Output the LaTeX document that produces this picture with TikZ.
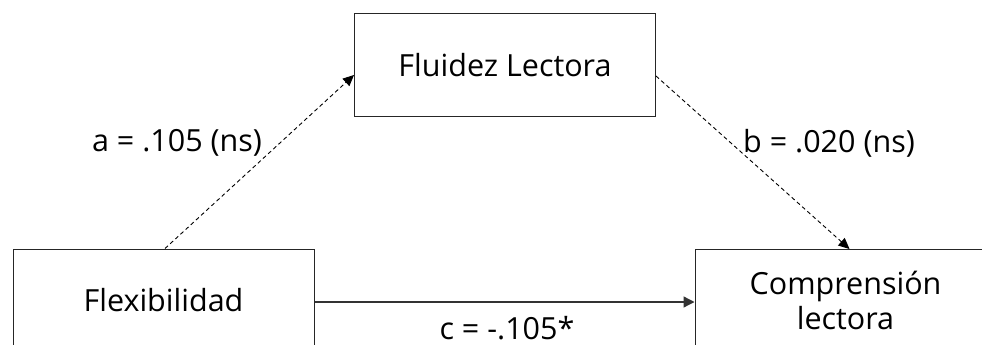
\documentclass[tikz,border=0pt]{standalone}
\usepackage{fontspec}
\setmainfont{Open Sans}
\usetikzlibrary{arrows.meta,calc}
\begin{document}
\begin{tikzpicture}[x=1pt,y=-1pt,
  box/.style={draw=black!85,line width=1pt,minimum width=301pt,minimum height=102pt,inner sep=0pt,align=center,font=\fontsize{30.5}{35}\selectfont},
  lab/.style={font=\fontsize{30.5}{35}\selectfont,inner sep=0pt},
  conn/.style={draw=black!80,line width=1.3pt,-{Triangle[length=11pt,width=11pt]}},
  dconn/.style={draw=black,line width=0.9pt,dash pattern=on 4pt off 3pt,-{Triangle[length=11pt,width=10pt]}}]
\clip (0,0) rectangle (982,345);
\fill[white] (0,0) rectangle (982,345);
\node[box] (flu) at (505,65) {Fluidez Lectora};
\node[box] (flex) at (163.5,300) {Flexibilidad};
\node[box] (comp) at (845.5,300.5) {Comprensión\\lectora};
\draw[conn] ($(flex.east)+(0,2)$) -- ($(comp.west)+(0,1.5)$);
\draw[dconn] ($(flex.north)+(1.5,0)$) -- ($(flu.west)+(0,10)$);
\draw[dconn] ($(flu.east)+(0,11)$) -- ($(comp.north)+(4,0)$);
\node[lab] (la) at (177,143) {a = .105 (ns)};
\node[lab] (lb) at (829,143) {b = .020 (ns)};
\node[lab] (lc) at (507,328) {c = -.105*};
\end{tikzpicture}
\end{document}
